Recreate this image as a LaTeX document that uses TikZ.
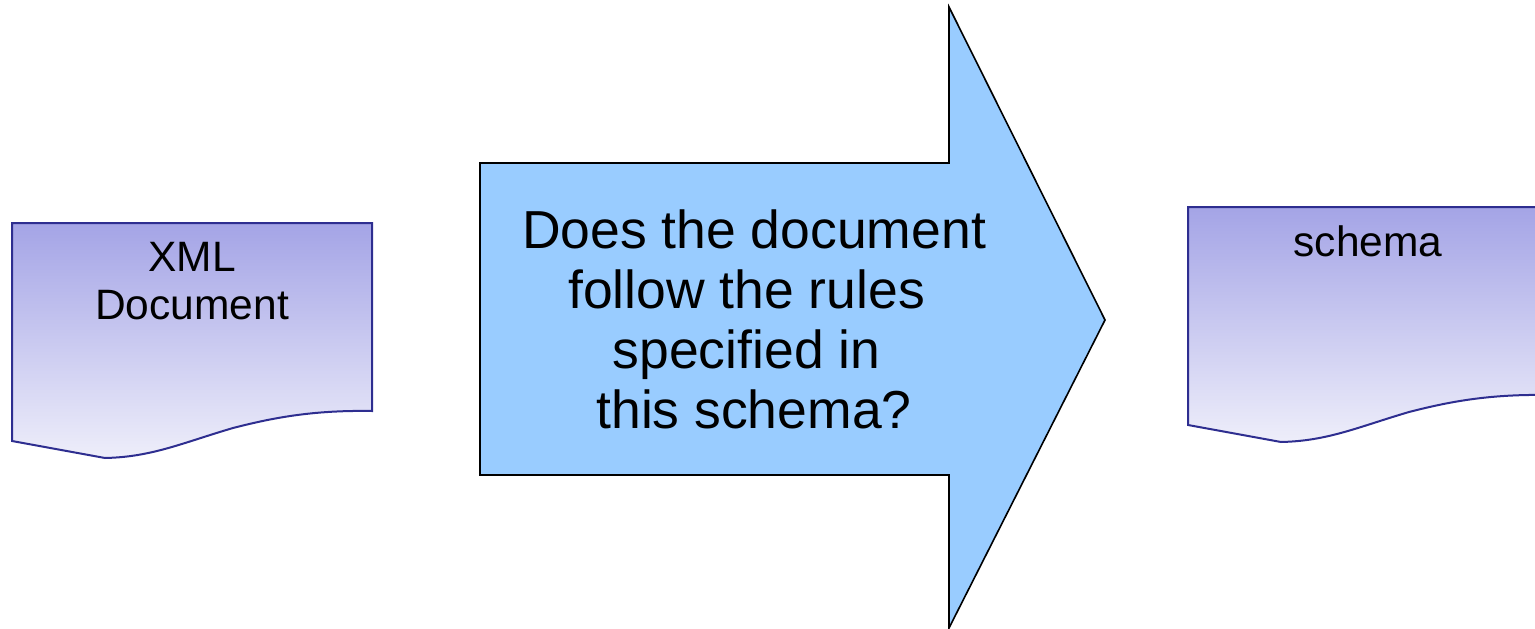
\documentclass[tikz,border=0pt]{standalone}
\usepackage{fontspec}
\setmainfont{Liberation Sans}
\definecolor{docline}{HTML}{2E2E90}
\definecolor{doctop}{HTML}{A4A4E6}
\definecolor{docbot}{HTML}{EEEEFA}
\definecolor{arrowfill}{HTML}{99CCFF}
\newcommand{\tsp}{\hbox to 0.278em{}}
\tikzset{
  docpage/.pic={
    \path[draw=docline, line width=2pt, top color=doctop, bottom color=docbot]
      (0,0) -- (360,0) -- (360,188)
      .. controls (300,187) and (260,195) .. (221,205)
      .. controls (170,220) and (140,234) .. (93,235)
      -- (0,218) -- cycle;
  },
  doctext/.style={inner sep=0pt, align=center, font=\fontsize{42.5}{47.6}\selectfont},
  bigarrow/.style={draw=black, line width=1.6pt, fill=arrowfill, line join=miter},
  arrowtext/.style={inner sep=0pt, align=center, font=\fontsize{53.5}{60}\selectfont}
}
\begin{document}
\begin{tikzpicture}[x=1pt, y=-1pt]
  \useasboundingbox (0,0) rectangle (1535,629);
  \clip (0,0) rectangle (1535,629);
  % left document
  \pic at (12,223) {docpage};
  \node[doctext, anchor=center] (xmldoc) at (192,280.8) {XML\\Document};
  % right document
  \pic at (1188,207) {docpage};
  \node[doctext, anchor=base] (schema) at (1368,256.7) {schema};
  % big arrow
  \path[bigarrow] (480,163) -- (949,163) -- (949,7) -- (1105,320)
    -- (949,628) -- (949,475) -- (480,475) -- cycle;
  \node[arrowtext, anchor=center] (question) at (754,319)
    {Does the document\\follow the rules\tsp\\specified in\tsp\\this schema?};
\end{tikzpicture}
\end{document}
